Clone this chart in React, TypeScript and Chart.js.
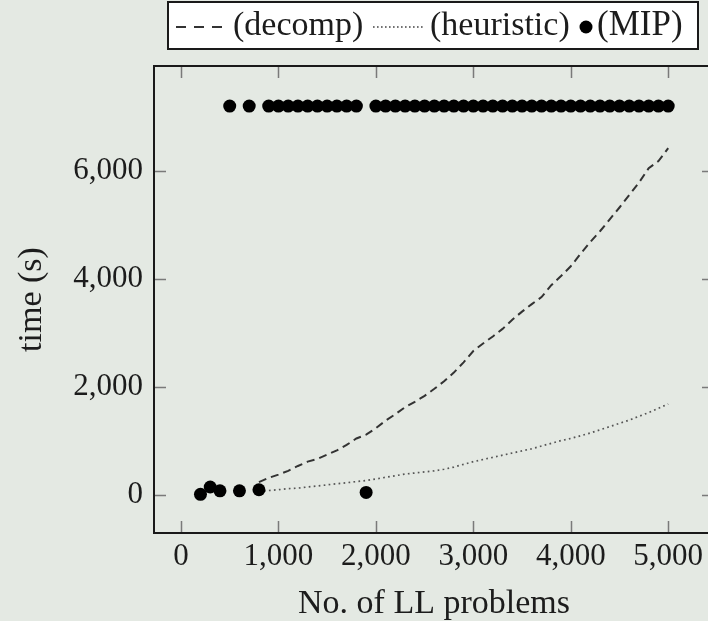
import React, { useEffect, useRef } from "react";
import { Chart, registerables } from "chart.js";

Chart.register(...registerables);

// ---- data ----
const problemSizes = [
  800, 900, 1000, 1100, 1200, 1300, 1400, 1500, 1600, 1700, 1800, 1900, 2000,
  2100, 2200, 2300, 2400, 2500, 2600, 2700, 2800, 2900, 3000, 3100, 3200, 3300,
  3400, 3500, 3600, 3700, 3800, 3900, 4000, 4100, 4200, 4300, 4400, 4500, 4600,
  4700, 4800, 4900, 5000,
];
const decompTimes = [
  230, 310, 370, 440, 530, 610, 660, 740, 820, 920, 1040, 1110, 1230,
  1370, 1490, 1620, 1720, 1830, 1960, 2100, 2260, 2450, 2660, 2800, 2930, 3070,
  3240, 3390, 3530, 3660, 3880, 4050, 4230, 4460, 4680, 4880, 5100, 5320, 5550,
  5780, 6050, 6180, 6420,
];
const heuristicTimes = [
  60, 75, 90, 110, 120, 140, 160, 180, 200, 220, 240, 260, 290,
  320, 350, 380, 400, 420, 440, 470, 510, 560, 610, 650, 690, 730,
  770, 810, 850, 900, 950, 1000, 1040, 1090, 1140, 1200, 1260, 1320, 1380,
  1450, 1520, 1600, 1680,
];
const mipSizes = [
  200, 300, 400, 500, 600, 700, 800, 900, 1000, 1100, 1200, 1300, 1400, 1500,
  1600, 1700, 1800, 1900, 2000, 2100, 2200, 2300, 2400, 2500, 2600, 2700, 2800,
  2900, 3000, 3100, 3200, 3300, 3400, 3500, 3600, 3700, 3800, 3900, 4000, 4100,
  4200, 4300, 4400, 4500, 4600, 4700, 4800, 4900, 5000,
];
const mipTimes = [
  5, 140, 70, 7200, 70, 7200, 90, 7200, 7200, 7200, 7200, 7200, 7200, 7200,
  7200, 7200, 7200, 40, 7200, 7200, 7200, 7200, 7200, 7200, 7200, 7200, 7200,
  7200, 7200, 7200, 7200, 7200, 7200, 7200, 7200, 7200, 7200, 7200, 7200, 7200,
  7200, 7200, 7200, 7200, 7200, 7200, 7200, 7200, 7200,
];
const xTickValues = [0, 1000, 2000, 3000, 4000, 5000];
const yTickValues = [0, 2000, 4000, 6000];
const seriesLabels = ["(decomp)", "(heuristic)", "(MIP)"];
const xTitle = "No. of LL problems";
const yTitle = "time (s)";

const BG = "#e4e9e3";
const FONT = "'Liberation Serif', 'Times New Roman', serif";
const TEXT = "#1c1c1c";

const fmt = (v: number) => v.toLocaleString("en-US");

const decorPlugin = {
  id: "decor",
  beforeDraw(chart: any) {
    const ctx = chart.ctx;
    ctx.save();
    ctx.fillStyle = BG;
    ctx.fillRect(0, 0, chart.width, chart.height);
    ctx.restore();
  },
  afterDraw(chart: any) {
    const ctx = chart.ctx;
    const { left, right, top, bottom } = chart.chartArea;
    const xs = chart.scales.x;
    const ys = chart.scales.y;
    ctx.save();
    // inward tick marks on all four sides
    ctx.strokeStyle = "#7a7a7a";
    ctx.lineWidth = 1.5;
    ctx.setLineDash([]);
    const tl = 12;
    xTickValues.forEach((v) => {
      const px = Math.round(xs.getPixelForValue(v)) + 0.5;
      ctx.beginPath();
      ctx.moveTo(px, bottom);
      ctx.lineTo(px, bottom - tl);
      ctx.moveTo(px, top);
      ctx.lineTo(px, top + tl);
      ctx.stroke();
    });
    yTickValues.forEach((v) => {
      const py = Math.round(ys.getPixelForValue(v)) + 0.5;
      ctx.beginPath();
      ctx.moveTo(left, py);
      ctx.lineTo(left + tl, py);
      ctx.moveTo(right, py);
      ctx.lineTo(right - tl, py);
      ctx.stroke();
    });
    // frame
    ctx.strokeStyle = "#1a1a1a";
    ctx.lineWidth = 2;
    ctx.strokeRect(left, top, right - left, bottom - top);

    // legend
    const lx = 168, ly = 2, lw = 530, lh = 47;
    ctx.fillStyle = "#ffffff";
    ctx.fillRect(lx, ly, lw, lh);
    ctx.strokeStyle = "#1a1a1a";
    ctx.lineWidth = 2;
    ctx.strokeRect(lx, ly, lw, lh);
    const cy = 27;
    // dashed sample
    ctx.strokeStyle = "#333333";
    ctx.lineWidth = 2;
    ctx.setLineDash([10, 8]);
    ctx.beginPath();
    ctx.moveTo(176, cy);
    ctx.lineTo(223, cy);
    ctx.stroke();
    // dotted sample
    ctx.strokeStyle = "#444444";
    ctx.lineWidth = 1.6;
    ctx.setLineDash([1.6, 2.4]);
    ctx.beginPath();
    ctx.moveTo(373, cy);
    ctx.lineTo(424, cy);
    ctx.stroke();
    ctx.setLineDash([]);
    // dot sample
    ctx.fillStyle = "#000000";
    ctx.beginPath();
    ctx.arc(586, cy, 6.5, 0, Math.PI * 2);
    ctx.fill();
    // texts
    ctx.fillStyle = TEXT;
    ctx.font = `34px ${FONT}`;
    ctx.textBaseline = "middle";
    ctx.textAlign = "left";
    ctx.fillText(seriesLabels[0], 233, cy - 1);
    ctx.fillText(seriesLabels[1], 430, cy - 1);
    ctx.font = `35px ${FONT}`;
    ctx.fillText(seriesLabels[2], 597, cy - 1);
    ctx.restore();
  },
};

export default function App() {
  const ref = useRef<HTMLCanvasElement | null>(null);

  useEffect(() => {
    if (!ref.current) return;
    const chart = new Chart(ref.current, {
      type: "line",
      data: {
        datasets: [
          {
            label: seriesLabels[0],
            data: problemSizes.map((x, i) => ({ x, y: decompTimes[i] })),
            borderColor: "#333333",
            borderWidth: 2,
            borderDash: [8, 5],
            pointRadius: 0,
            fill: false,
            tension: 0,
            order: 2,
          },
          {
            label: seriesLabels[1],
            data: problemSizes.map((x, i) => ({ x, y: heuristicTimes[i] })),
            borderColor: "#555555",
            borderWidth: 1.7,
            borderDash: [1.7, 3.3],
            pointRadius: 0,
            fill: false,
            tension: 0,
            order: 1,
          },
          {
            label: seriesLabels[2],
            data: mipSizes.map((x, i) => ({ x, y: mipTimes[i] })),
            showLine: false,
            pointRadius: 6.5,
            pointBackgroundColor: "#000000",
            pointBorderColor: "#000000",
            pointBorderWidth: 0,
            order: 0,
          },
        ],
      },
      options: {
        responsive: false,
        animation: false,
        devicePixelRatio: 1,
        layout: { padding: { left: 0, right: 16, top: 66, bottom: 0 } },
        plugins: {
          legend: { display: false },
          tooltip: { enabled: false },
        },
        scales: {
          x: {
            type: "linear",
            min: -277,
            max: 5470,
            grid: { display: false },
            border: { display: false },
            afterBuildTicks: (s: any) => {
              s.ticks = xTickValues.map((v) => ({ value: v }));
            },
            afterFit: (s: any) => {
              s.height = 88;
            },
            ticks: {
              color: TEXT,
              font: { family: FONT, size: 31, lineHeight: 1 },
              padding: 0,
              maxRotation: 0,
              autoSkip: false,
              callback: (v: any) => fmt(Number(v)),
            },
            title: {
              display: true,
              text: xTitle,
              color: TEXT,
              font: { family: FONT, size: 34, lineHeight: 1 },
              padding: { top: 0, bottom: 0 },
            },
          },
          y: {
            type: "linear",
            min: -712,
            max: 7942,
            grid: { display: false },
            border: { display: false },
            afterBuildTicks: (s: any) => {
              s.ticks = yTickValues.map((v) => ({ value: v }));
            },
            afterFit: (s: any) => {
              s.width = 154;
            },
            ticks: {
              color: TEXT,
              font: { family: FONT, size: 31, lineHeight: 1 },
              padding: 3,
              autoSkip: false,
              callback: (v: any) => fmt(Number(v)),
            },
            title: {
              display: true,
              text: yTitle,
              color: TEXT,
              font: { family: FONT, size: 34, lineHeight: 1 },
              padding: { top: 15, bottom: 0 },
            },
          },
        },
      },
      plugins: [decorPlugin],
    } as any);
    return () => chart.destroy();
  }, []);

  return (
    <div
      style={{
        position: "fixed",
        left: 0,
        top: 0,
        width: 708,
        height: 621,
        overflow: "hidden",
        background: BG,
      }}
    >
      <canvas ref={ref} width={730} height={621} style={{ display: "block" }} />
    </div>
  );
}
